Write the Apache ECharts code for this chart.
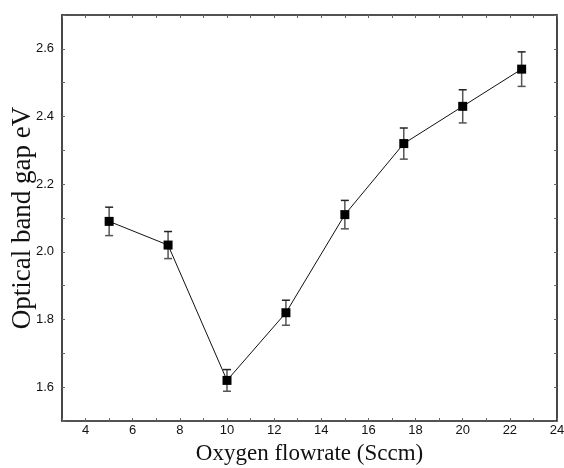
<!DOCTYPE html>
<html>
<head>
<meta charset="utf-8">
<script src="https://cdn.jsdelivr.net/npm/echarts@6/dist/echarts.min.js"></script>
<style>
  html, body { margin: 0; padding: 0; background: #fff; }
  #chart { width: 564px; height: 468px; }
</style>
</head>
<body>
<div id="chart"></div>
<script>
// Oxygen flow rate (sccm) and measured optical band gap (eV) with uncertainty
const flowRates = [5, 7.5, 10, 12.5, 15, 17.5, 20, 22.5];
const bandGaps = [2.09, 2.02, 1.62, 1.82, 2.11, 2.32, 2.43, 2.54];
const bandGapErrors = [0.042, 0.040, 0.032, 0.037, 0.042, 0.046, 0.049, 0.051];

const xTickLabels = [4, 6, 8, 10, 12, 14, 16, 18, 20, 22, 24];
const yTickLabels = [1.6, 1.8, 2.0, 2.2, 2.4, 2.6];

const points = flowRates.map((x, i) => [x, bandGaps[i]]);
const errorRows = flowRates.map((x, i) => [x, bandGaps[i] - bandGapErrors[i], bandGaps[i] + bandGapErrors[i]]);

const tickFont = { fontFamily: 'Liberation Sans, Arial, sans-serif', fontSize: 13, color: '#111' };
const axisLine = { show: true, lineStyle: { color: '#1a1a1a', width: 1.6 } };
const innerTick = { show: true, inside: true, length: 3, lineStyle: { color: '#666', width: 1 } };

function hasLabel(list, v) {
  return list.some(t => Math.abs(t - v) < 1e-6);
}

const chart = echarts.init(document.getElementById('chart'), null, { renderer: 'canvas' });

chart.setOption({
  animation: false,
  backgroundColor: '#fff',
  grid: { left: 62, top: 15, right: 7, bottom: 47, containLabel: false, outerBoundsMode: 'none' },
  xAxis: [
    {
      type: 'value', min: 3, max: 24, interval: 1, position: 'bottom',
      name: 'Oxygen flowrate (Sccm)', nameLocation: 'middle', nameGap: 21,
      nameTextStyle: { fontFamily: 'Liberation Serif, Times New Roman, serif', fontSize: 23, color: '#111' },
      axisLine: axisLine, axisTick: innerTick, splitLine: { show: false },
      axisLabel: Object.assign({
        margin: 3,
        formatter: v => hasLabel(xTickLabels, v) ? String(Math.round(v)) : ''
      }, tickFont)
    },
    {
      type: 'value', min: 3, max: 24, interval: 1, position: 'top',
      axisLine: axisLine, axisTick: innerTick, splitLine: { show: false },
      axisLabel: { show: false }
    }
  ],
  yAxis: [
    {
      type: 'value', min: 1.5, max: 2.7, interval: 0.1, position: 'left',
      name: 'Optical band gap eV', nameLocation: 'middle', nameGap: 26,
      nameMoveOverlap: false,
      nameTextStyle: { fontFamily: 'Liberation Serif, Times New Roman, serif', fontSize: 27, color: '#111' },
      axisLine: axisLine, axisTick: innerTick, splitLine: { show: false },
      axisLabel: Object.assign({
        margin: 8,
        formatter: v => hasLabel(yTickLabels, v) ? v.toFixed(1) : ''
      }, tickFont)
    },
    {
      type: 'value', min: 1.5, max: 2.7, interval: 0.1, position: 'right',
      axisLine: axisLine, axisTick: innerTick, splitLine: { show: false },
      axisLabel: { show: false }
    }
  ],
  series: [
    {
      // vertical error bars with caps
      type: 'custom',
      xAxisIndex: 0, yAxisIndex: 0,
      data: errorRows,
      encode: { x: 0, y: [1, 2] },
      z: 2,
      renderItem: function (params, api) {
        const x = api.value(0);
        const lo = api.coord([x, api.value(1)]);
        const hi = api.coord([x, api.value(2)]);
        const cap = 4;
        const style = { stroke: '#555', lineWidth: 1.5, fill: null };
        return {
          type: 'group',
          children: [
            { type: 'line', shape: { x1: lo[0], y1: lo[1], x2: hi[0], y2: hi[1] }, style: style },
            { type: 'line', shape: { x1: hi[0] - cap, y1: hi[1], x2: hi[0] + cap, y2: hi[1] }, style: { stroke: '#222', lineWidth: 1.5 } },
            { type: 'line', shape: { x1: lo[0] - cap, y1: lo[1], x2: lo[0] + cap, y2: lo[1] }, style: style }
          ]
        };
      }
    },
    {
      type: 'line',
      xAxisIndex: 0, yAxisIndex: 0,
      data: points,
      z: 3,
      symbol: 'rect',
      symbolSize: 9,
      lineStyle: { color: '#111', width: 1 },
      itemStyle: { color: '#000', borderWidth: 0 }
    }
  ]
});
</script>
</body>
</html>
